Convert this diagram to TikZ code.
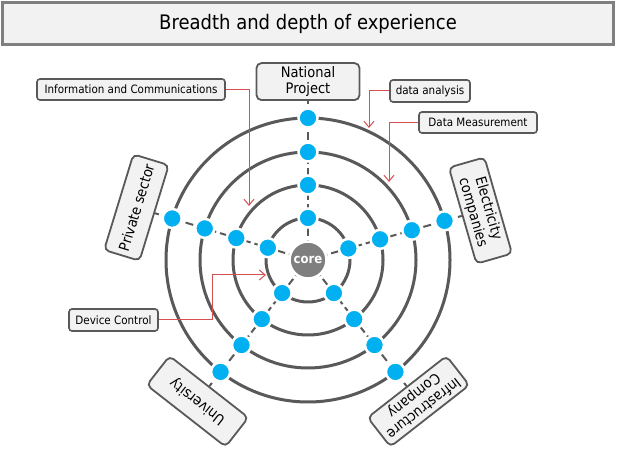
\documentclass[tikz,border=0pt]{standalone}
\usepackage{fontspec}
\setmainfont{DejaVu Sans}[FakeStretch=0.9]
\usetikzlibrary{arrows.meta}
\definecolor{boxfill}{HTML}{F2F2F2}
\definecolor{ringgray}{HTML}{595959}
\definecolor{titlegray}{HTML}{7F7F7F}
\definecolor{dotblue}{HTML}{00B0F0}
\definecolor{arrred}{RGB}{215,80,80}
\tikzset{
  titlebox/.style={draw=titlegray, line width=3bp, fill=boxfill, minimum width=610bp, minimum height=42bp, inner sep=0pt, font=\fontsize{20bp}{24bp}\selectfont},
  bigbox/.style={draw=ringgray, line width=1.8bp, fill=boxfill, rounded corners=5bp, minimum width=100bp, minimum height=37bp, inner sep=1bp, align=center, font=\fontsize{14.5bp}{16bp}\selectfont},
  lblbox/.style={draw=ringgray, line width=1.6bp, fill=boxfill, rounded corners=3bp, minimum height=21bp, inner sep=0pt, font=\fontsize{11.5bp}{13bp}\selectfont},
  ring/.style={draw=ringgray, line width=3bp},
  spoke/.style={draw=ringgray, line width=2bp, dash pattern=on 8bp off 4bp},
  dot/.style={circle, fill=dotblue, draw=white, line width=2.5bp, minimum size=19bp, inner sep=0pt},
  corenode/.style={circle, fill=titlegray, draw=white, line width=2.5bp, minimum size=37bp, inner sep=0pt, text=white, font=\fontsize{13bp}{15bp}\selectfont\bfseries},
  redarr/.style={draw=arrred, line width=1bp, -{Straight Barb[length=6bp,width=10bp]}},
  redline/.style={draw=arrred, line width=1bp},
}
\begin{document}
\begin{tikzpicture}[x=1bp,y=1bp]
\useasboundingbox (0,0) rectangle (618,458);
\fill[white] (0,0) rectangle (618,458);
% title
\node[titlebox] (title) at (308,434) {Breadth and depth of experience};
\begin{scope}[shift={(308,198)}]
  \coordinate (c) at (0,0);
  % outer boxes
  \node[bigbox, anchor=south, minimum width=103bp] (np) at (90:159) {National\\Project};
  \node[bigbox, anchor=south, rotate=-74] (ec) at (16:160) {Electricity\\companies};
  \node[bigbox, anchor=south, rotate=-142] (ic) at (-52:160) {Infrastructure\\Company};
  \node[bigbox, anchor=south, rotate=142] (un) at (-128:160) {University};
  \node[bigbox, anchor=south, rotate=73] (ps) at (163:160) {Private sector};
  % spokes
  \draw[spoke] (c) -- (np.south);
  \draw[spoke] (c) -- (ec.south);
  \draw[spoke] (c) -- (ic.south);
  \draw[spoke] (c) -- (un.south);
  \draw[spoke] (c) -- (ps.south);
  % rings
  \foreach \r in {42,75,108,142} \draw[ring] (c) circle[radius=\r];
  % dots
  \foreach \a/\n in {90/1,16/2,-52/3,-128/4,163/5}
    \foreach \r/\m in {42/1,75/2,108/3,142/4}
      \node[dot] (d\n-\m) at (\a:\r) {};
  \node[corenode] (core) at (c) {core};
\end{scope}
% label boxes
\node[lblbox, minimum width=188bp] (info) at (131,368.5) {Information and Communications};
\node[lblbox, minimum width=80bp, minimum height=22bp] (da) at (430,367) {data analysis};
\node[lblbox, minimum width=118bp] (dm) at (478,335.5) {Data Measurement};
\node[lblbox, minimum width=89bp, minimum height=22bp] (dc) at (113.5,138) {Device Control};
% red pointers
\coordinate (t1) at (249,252);
\coordinate (t2) at (369,330);
\coordinate (t3) at (389,276);
\coordinate (k4) at (212,183);
\coordinate (t4) at (266,183);
\draw[redarr] (info.east) -| (t1);
\draw[redarr] (da.west) -| (t2);
\draw[redarr] (dm.west) -| (t3);
\draw[redline] (dc.east) -| (k4);
\draw[redarr] (k4) -- (t4);
\end{tikzpicture}
\end{document}
